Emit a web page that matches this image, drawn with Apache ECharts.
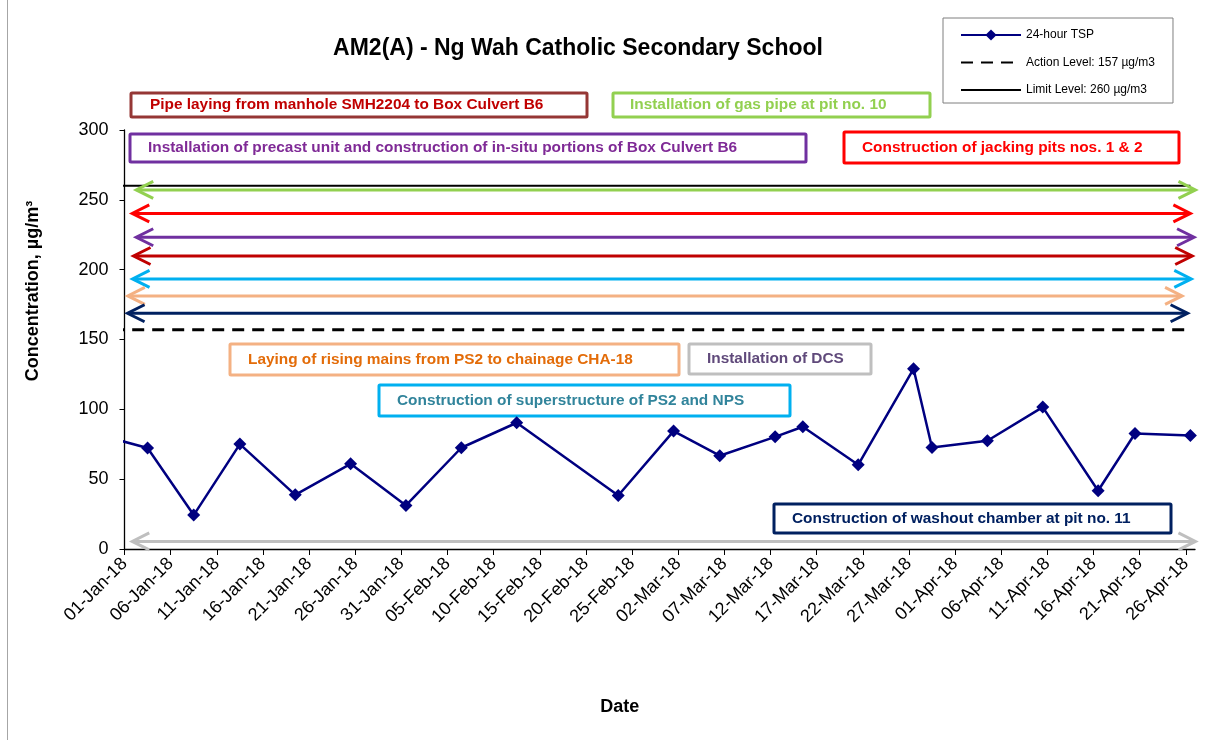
<!DOCTYPE html>
<html>
<head>
<meta charset="utf-8">
<script src="https://cdn.jsdelivr.net/npm/echarts@6/dist/echarts.min.js"></script>
<style>
  html, body { margin: 0; padding: 0; background: #ffffff; }
  #chart { width: 1225px; height: 740px; }
</style>
</head>
<body>
<div id="chart"></div>
<script>
// ---------------- DATA ----------------
const chartTitle = 'AM2(A) - Ng Wah Catholic Secondary School';
const yAxisTitle = 'Concentration, µg/m³';
const xAxisTitle = 'Date';

// 24-hour TSP sampling dates and concentrations (µg/m3)
const sampleDates = [
  '2017-12-28', '2018-01-03', '2018-01-08', '2018-01-13', '2018-01-19', '2018-01-25',
  '2018-01-31', '2018-02-06', '2018-02-12', '2018-02-23', '2018-03-01', '2018-03-06',
  '2018-03-12', '2018-03-15', '2018-03-21', '2018-03-27', '2018-03-29', '2018-04-04',
  '2018-04-10', '2018-04-16', '2018-04-20', '2018-04-26'
];
const tspValues = [
  83, 72.3, 24.3, 75.1, 38.8, 61.0,
  31.2, 72.5, 90.4, 38.3, 84.4, 66.8,
  80.3, 87.5, 60.3, 129.0, 72.7, 77.5,
  101.6, 41.7, 82.7, 81.3
];
const actionLevel = 157;
const limitLevel = 260;

const seriesNames = ['24-hour TSP', 'Action Level: 157 µg/m3', 'Limit Level: 260 µg/m3'];

const xTickLabels = [
  '01-Jan-18', '06-Jan-18', '11-Jan-18', '16-Jan-18', '21-Jan-18', '26-Jan-18',
  '31-Jan-18', '05-Feb-18', '10-Feb-18', '15-Feb-18', '20-Feb-18', '25-Feb-18',
  '02-Mar-18', '07-Mar-18', '12-Mar-18', '17-Mar-18', '22-Mar-18', '27-Mar-18',
  '01-Apr-18', '06-Apr-18', '11-Apr-18', '16-Apr-18', '21-Apr-18', '26-Apr-18'
];
const yTickLabels = ['0', '50', '100', '150', '200', '250', '300'];

// construction activities (annotation text)
const activityNames = [
  'Pipe laying from manhole SMH2204 to Box Culvert B6',
  'Installation of gas pipe at pit no. 10',
  'Installation of precast unit and construction of in-situ portions of Box Culvert B6',
  'Construction of jacking pits nos. 1 & 2',
  'Laying of rising mains from PS2 to chainage CHA-18',
  'Installation of DCS',
  'Construction of superstructure of PS2 and NPS',
  'Construction of washout chamber at pit no. 11'
];

// ---------------- LAYOUT / STYLE ----------------
const FONT = '"Liberation Sans", Arial, sans-serif';
const axisStart = Date.UTC(2018, 0, 1);
const dayMs = 86400000;
const daySlotCenter = 0.5;   // points sit in the middle of their day slot
const tickStep = 5;          // days between axis ticks
function dayPos(s) {
  const p = s.split('-').map(Number);
  return (Date.UTC(p[0], p[1] - 1, p[2]) - axisStart) / dayMs + daySlotCenter;
}
const tickDays = xTickLabels.map((_, i) => i * tickStep);

// annotation boxes (pixel layout), one per activity
const boxLayout = [
  { x: 131, y: 93,  w: 456, h: 24, tx: 150, border: '#953735', color: '#C00000' },
  { x: 613, y: 93,  w: 317, h: 24, tx: 630, border: '#92D050', color: '#92D050' },
  { x: 130, y: 134, w: 676, h: 28, tx: 148, border: '#7030A0', color: '#7F2A96' },
  { x: 844, y: 132, w: 335, h: 31, tx: 862, border: '#FF0000', color: '#FF0000' },
  { x: 230, y: 344, w: 449, h: 31, tx: 248, border: '#F4B183', color: '#E36C09' },
  { x: 689, y: 344, w: 182, h: 30, tx: 707, border: '#BFBFBF', color: '#604A7B' },
  { x: 379, y: 385, w: 411, h: 31, tx: 397, border: '#00B0F0', color: '#31849B' },
  { x: 774, y: 504, w: 397, h: 29, tx: 792, border: '#002060', color: '#002060' }
];

// double-headed arrows spanning the period (level in axis units, ends in day units)
const arrowRows = [
  { level: 257.1, start: 1.27, end: 116.05, color: '#92D050' },
  { level: 240.3, start: 0.84, end: 115.5,  color: '#FF0000' },
  { level: 223.2, start: 1.27, end: 115.9,  color: '#7030A0' },
  { level: 209.8, start: 0.98, end: 115.7,  color: '#C00000' },
  { level: 193.4, start: 0.87, end: 115.6,  color: '#00B0F0' },
  { level: 181.2, start: 0.36, end: 114.6,  color: '#F4B183' },
  { level: 168.8, start: 0.33, end: 115.2,  color: '#002060' },
  { level: 5.4,   start: 0.84, end: 116.05, color: '#BFBFBF' }
];

// ---------------- CHART ----------------
const chart = echarts.init(document.getElementById('chart'), null, { renderer: 'canvas' });

const tspData = sampleDates.map((d, i) => [dayPos(d), tspValues[i]]);
const actionData = sampleDates.map(d => [dayPos(d), actionLevel]);
const limitData = sampleDates.map(d => [dayPos(d), limitLevel]);

const graphics = [
  { type: 'line', shape: { x1: 7.5, y1: 0, x2: 7.5, y2: 740 }, style: { stroke: '#A6A6A6', lineWidth: 1 }, silent: true }
];
activityNames.forEach((name, i) => {
  const b = boxLayout[i];
  graphics.push({
    type: 'group', silent: true, z: 10,
    children: [
      { type: 'rect', shape: { x: b.x, y: b.y, width: b.w, height: b.h, r: 1 },
        style: { fill: '#ffffff', stroke: b.border, lineWidth: 3 } },
      { type: 'text', x: b.tx, y: b.y + b.h / 2,
        style: { text: name, fill: b.color, font: 'bold 15.4px ' + FONT, verticalAlign: 'middle', align: 'left' } }
    ]
  });
});

const hiddenSymbol = { color: 'rgba(0,0,0,0)', borderWidth: 0, opacity: 0 };

const option = {
  backgroundColor: '#ffffff',
  animation: false,
  title: {
    text: chartTitle,
    left: 573, top: 32,
    textAlign: 'center',
    textStyle: { fontSize: 23, fontWeight: 'bold', color: '#000', fontFamily: FONT }
  },
  legend: {
    data: [
      { name: seriesNames[0] },
      { name: seriesNames[1], itemStyle: hiddenSymbol },
      { name: seriesNames[2], itemStyle: hiddenSymbol }
    ],
    orient: 'vertical',
    left: 943, top: 18,
    padding: [11, 18, 7, 17],
    itemGap: 15.5,
    itemWidth: 60,
    itemHeight: 14,
    borderColor: '#7F7F7F',
    borderWidth: 1,
    backgroundColor: '#ffffff',
    textStyle: { fontSize: 12, color: '#000', fontFamily: FONT }
  },
  grid: { left: 124.5, top: 130, right: 30, bottom: 191, containLabel: false },
  xAxis: {
    type: 'value',
    min: 0, max: 116, interval: tickStep,
    axisLine: { show: true, onZero: false, lineStyle: { color: '#000', width: 1.3 } },
    axisTick: { show: true, length: 6, lineStyle: { color: '#000' }, customValues: tickDays },
    axisLabel: {
      rotate: 45, fontSize: 18, color: '#000', fontFamily: FONT, margin: 12,
      customValues: tickDays,
      formatter: v => xTickLabels[Math.round(v / tickStep)] || ''
    },
    splitLine: { show: false },
    name: xAxisTitle, nameLocation: 'middle', nameGap: 149,
    nameTextStyle: { fontWeight: 'bold', fontSize: 18, color: '#000', fontFamily: FONT, padding: [0, 80, 0, 0] }
  },
  yAxis: {
    type: 'value',
    min: 0, max: 300, interval: 50,
    axisLine: { show: true, lineStyle: { color: '#000', width: 1.3 } },
    axisTick: { show: true, length: 5, lineStyle: { color: '#000' } },
    axisLabel: { fontSize: 18, color: '#000', fontFamily: FONT, margin: 16,
      formatter: v => yTickLabels[Math.round(v / 50)] },
    splitLine: { show: false },
    name: yAxisTitle, nameLocation: 'middle', nameGap: 82, nameRotate: 90,
    nameTextStyle: { fontWeight: 'bold', fontSize: 18, color: '#000', fontFamily: FONT, padding: [0, 0, 0, 97] }
  },
  graphic: graphics,
  series: [
    {
      name: seriesNames[0], type: 'line', data: tspData,
      symbol: 'diamond', symbolSize: 13, clip: true, z: 5,
      lineStyle: { color: '#000080', width: 2.5 },
      itemStyle: { color: '#000080' }
    },
    {
      name: seriesNames[1], type: 'line', data: actionData,
      symbol: 'none', clip: true, z: 3,
      lineStyle: { color: '#000', width: 3, type: [12, 8] },
      itemStyle: { color: '#000' }
    },
    {
      name: seriesNames[2], type: 'line', data: limitData,
      symbol: 'none', clip: true, z: 3,
      lineStyle: { color: '#000', width: 2 },
      itemStyle: { color: '#000' }
    },
    {
      name: 'activity periods', type: 'custom', silent: true, clip: false, z: 4,
      data: arrowRows.map(r => [r.start, r.end, r.level]),
      renderItem: (params, api) => {
        const row = arrowRows[params.dataIndex];
        const p1 = api.coord([api.value(0), api.value(2)]);
        const p2 = api.coord([api.value(1), api.value(2)]);
        const L = 17, H = 8.5;
        const st = { stroke: row.color, lineWidth: 3, fill: null, lineJoin: 'miter' };
        return {
          type: 'group',
          children: [
            { type: 'line', shape: { x1: p1[0] + 1, y1: p1[1], x2: p2[0] - 1, y2: p2[1] }, style: st },
            { type: 'polyline', shape: { points: [[p1[0] + L, p1[1] - H], [p1[0], p1[1]], [p1[0] + L, p1[1] + H]] }, style: st },
            { type: 'polyline', shape: { points: [[p2[0] - L, p2[1] - H], [p2[0], p2[1]], [p2[0] - L, p2[1] + H]] }, style: st }
          ]
        };
      }
    }
  ]
};
chart.setOption(option);
</script>
</body>
</html>
